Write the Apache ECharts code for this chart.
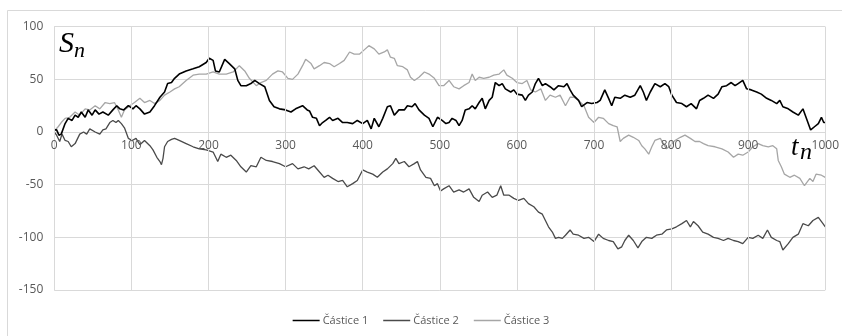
<!DOCTYPE html>
<html>
<head>
<meta charset="utf-8">
<script src="https://cdn.jsdelivr.net/npm/echarts@6/dist/echarts.min.js"></script>
<style>
  html, body { margin: 0; padding: 0; background: #ffffff; }
  #chart { width: 842px; height: 336px; }
</style>
</head>
<body>
<div id="chart"></div>
<script>
// Random walks S_n of three particles over 1000 steps
const seriesNames = ['Částice 1', 'Částice 2', 'Částice 3'];
const xTicks = [0, 100, 200, 300, 400, 500, 600, 700, 800, 900, 1000];
const yTicks = [-150, -100, -50, 0, 50, 100];

const steps1 = [0, 3, 6, 9, 14, 18, 23, 27, 31, 35, 40, 44, 49, 53, 58, 63, 70, 76, 81, 85, 90, 96, 102, 106, 111, 117, 124, 130, 137, 143, 147, 152, 156, 162, 171, 180, 188, 197, 201, 206, 209, 214, 221, 227, 234, 238, 242, 249, 255, 260, 266, 273, 279, 285, 292, 300, 307, 313, 322, 328, 331, 335, 340, 344, 348, 352, 357, 361, 368, 374, 380, 387, 393, 400, 406, 411, 415, 421, 426, 432, 436, 441, 447, 454, 458, 464, 468, 473, 480, 486, 491, 497, 503, 508, 512, 516, 521, 525, 529, 533, 538, 542, 546, 551, 555, 559, 564, 568, 572, 577, 581, 585, 592, 596, 600, 607, 611, 615, 620, 624, 628, 633, 637, 643, 648, 654, 661, 665, 669, 673, 680, 684, 691, 697, 704, 708, 714, 719, 723, 727, 734, 740, 747, 753, 760, 764, 768, 773, 779, 786, 792, 797, 801, 807, 814, 820, 826, 833, 837, 842, 848, 855, 861, 866, 872, 878, 883, 887, 893, 898, 904, 911, 917, 924, 930, 937, 941, 945, 952, 958, 965, 971, 975, 981, 986, 991, 995, 998, 1000];
const values1 = [2, 2, -3, -2, 8, 13, 11, 16, 14, 19, 14, 21, 16, 21, 17, 19, 16, 21, 25, 22, 21, 25, 22, 25, 22, 17, 19, 25, 33, 38, 46, 47, 51, 55, 58, 60, 62, 66, 70, 68, 58, 57, 69, 65, 60, 49, 44, 44, 46, 49, 46, 43, 30, 24, 22, 21, 19, 22, 25, 21, 20, 14, 13, 6, 9, 11, 14, 11, 13, 9, 9, 8, 11, 8, 11, 3, 13, 5, 13, 24, 25, 16, 21, 21, 25, 24, 27, 21, 16, 13, 5, 14, 11, 8, 9, 13, 11, 6, 11, 21, 22, 25, 22, 28, 32, 22, 30, 33, 47, 44, 46, 41, 38, 40, 36, 35, 30, 35, 38, 46, 51, 44, 46, 43, 40, 44, 43, 46, 40, 35, 30, 24, 28, 27, 28, 30, 40, 32, 25, 33, 32, 35, 33, 35, 44, 38, 30, 38, 46, 43, 46, 43, 35, 28, 27, 24, 27, 22, 30, 32, 35, 32, 36, 43, 44, 47, 44, 46, 49, 41, 40, 38, 36, 32, 30, 27, 30, 24, 22, 19, 16, 22, 14, 2, 5, 8, 14, 9, 9];

const steps2 = [0, 3, 7, 10, 14, 18, 22, 27, 33, 38, 42, 46, 53, 59, 63, 67, 72, 76, 80, 83, 87, 91, 96, 101, 106, 111, 117, 124, 128, 133, 137, 139, 141, 143, 147, 152, 156, 162, 171, 180, 188, 197, 206, 212, 216, 223, 229, 236, 242, 249, 255, 262, 268, 275, 283, 292, 300, 309, 316, 324, 330, 337, 344, 350, 355, 361, 368, 374, 380, 387, 393, 400, 406, 413, 419, 426, 432, 439, 443, 447, 454, 460, 467, 471, 475, 482, 488, 493, 497, 501, 505, 512, 518, 525, 531, 538, 544, 551, 555, 562, 568, 574, 579, 583, 590, 596, 602, 609, 615, 622, 628, 633, 637, 641, 646, 650, 654, 659, 663, 669, 673, 680, 687, 693, 700, 706, 712, 719, 725, 731, 736, 740, 745, 751, 757, 762, 768, 775, 781, 788, 794, 801, 807, 814, 820, 825, 829, 835, 841, 848, 855, 861, 868, 874, 881, 887, 893, 900, 906, 913, 919, 925, 930, 937, 941, 945, 952, 958, 965, 971, 978, 984, 991, 997, 1000];
const values2 = [0, -3, -9, -2, -8, -9, -14, -11, -2, 0, -2, 3, 0, -2, 2, 3, 9, 11, 9, 11, 8, 4, -6, -8, -6, -12, -8, -13, -17, -24, -28, -31, -25, -14, -9, -7, -6, -8, -11, -14, -16, -17, -19, -28, -21, -24, -22, -27, -33, -38, -32, -33, -24, -27, -28, -30, -33, -30, -35, -33, -35, -32, -38, -43, -41, -44, -47, -46, -52, -49, -46, -36, -38, -40, -43, -38, -35, -30, -25, -30, -28, -33, -30, -28, -36, -43, -44, -51, -49, -56, -54, -51, -57, -55, -57, -54, -62, -66, -60, -57, -62, -60, -51, -60, -60, -63, -65, -63, -68, -71, -76, -78, -84, -90, -95, -101, -100, -101, -98, -93, -97, -98, -101, -100, -104, -97, -101, -103, -104, -111, -109, -103, -98, -103, -110, -104, -100, -101, -98, -97, -93, -92, -90, -87, -84, -90, -85, -89, -95, -97, -100, -101, -103, -101, -103, -104, -106, -100, -101, -98, -101, -93, -100, -103, -104, -112, -106, -100, -97, -87, -89, -84, -81, -87, -90];

const steps3 = [0, 5, 9, 14, 20, 27, 33, 40, 46, 53, 59, 66, 72, 78, 83, 87, 91, 98, 104, 111, 117, 124, 130, 137, 143, 150, 156, 162, 171, 180, 188, 197, 206, 214, 223, 232, 240, 247, 253, 262, 268, 275, 283, 290, 296, 303, 309, 316, 322, 326, 333, 337, 344, 350, 357, 363, 370, 376, 383, 389, 396, 402, 408, 415, 421, 428, 432, 436, 441, 445, 452, 458, 462, 467, 473, 480, 486, 493, 499, 505, 512, 518, 525, 531, 538, 542, 546, 551, 557, 564, 570, 577, 583, 587, 594, 600, 607, 613, 618, 624, 631, 637, 643, 650, 656, 663, 669, 674, 680, 687, 693, 700, 706, 712, 719, 725, 730, 734, 738, 745, 751, 758, 762, 766, 771, 775, 779, 786, 790, 794, 799, 805, 812, 818, 825, 831, 837, 842, 848, 857, 866, 874, 881, 887, 893, 900, 906, 913, 919, 926, 932, 937, 939, 943, 947, 954, 960, 967, 973, 980, 984, 988, 995, 1000];
const values3 = [1, 5, 9, 13, 14, 19, 16, 22, 21, 25, 22, 28, 27, 28, 21, 14, 21, 25, 28, 32, 28, 30, 27, 30, 35, 38, 41, 43, 49, 54, 55, 55, 57, 55, 55, 57, 63, 58, 51, 44, 47, 49, 55, 58, 57, 51, 50, 55, 63, 69, 65, 60, 63, 66, 65, 62, 65, 68, 76, 74, 74, 78, 82, 79, 74, 76, 78, 71, 70, 63, 62, 59, 52, 49, 52, 57, 55, 51, 44, 44, 49, 43, 41, 44, 47, 55, 49, 52, 51, 52, 54, 55, 59, 54, 51, 47, 46, 49, 40, 38, 41, 30, 35, 33, 35, 25, 33, 33, 30, 25, 14, 9, 14, 13, 8, 6, 5, -9, -6, -3, -5, -8, -13, -16, -21, -14, -8, -6, -11, -16, -13, -8, -5, -3, -6, -9, -9, -11, -13, -14, -16, -19, -24, -21, -22, -19, -14, -11, -13, -14, -13, -16, -27, -33, -40, -43, -41, -44, -51, -44, -47, -40, -41, -43];

function pairs(xs, ys) {
  return xs.map((x, i) => [x, ys[i]]);
}

const lineColors = ['#000000', '#4a4a4a', '#a6a6a6'];
const lineWidths = [1.6, 1.3, 1.3];
const allSteps = [steps1, steps2, steps3];
const allValues = [values1, values2, values3];

const chart = echarts.init(document.getElementById('chart'), null, { renderer: 'canvas' });

const labelFont = '"Open Sans", "Liberation Sans", sans-serif';
const mathFont = '"Liberation Serif", "DejaVu Serif", serif';

// Plot rectangle
const gridTop = 26.7, gridBottom = 46, chartHeight = 336;
const plotHeight = chartHeight - gridTop - gridBottom;
const yMin = yTicks[0], yMax = yTicks[yTicks.length - 1];
// shift the category labels up so they sit on the zero line
const zeroOffset = -plotHeight * (0 - yMin) / (yMax - yMin);

chart.setOption({
  animation: false,
  backgroundColor: '#ffffff',
  grid: { left: 54.3, right: 14.7, top: gridTop, bottom: gridBottom, containLabel: false },
  xAxis: {
    type: 'value',
    min: xTicks[0],
    max: xTicks[xTicks.length - 1],
    interval: xTicks[1] - xTicks[0],
    offset: zeroOffset,
    axisLine: { show: false, onZero: false },
    axisTick: { show: false },
    axisLabel: { color: '#595959', fontSize: 12, fontFamily: labelFont, margin: 8, formatter: v => String(v) },
    splitLine: { show: true, lineStyle: { color: '#d9d9d9', width: 1 } },
    z: 20
  },
  yAxis: {
    type: 'value',
    min: yMin,
    max: yMax,
    interval: yTicks[1] - yTicks[0],
    axisLine: { show: true, onZero: false, lineStyle: { color: '#d9d9d9', width: 1 } },
    axisTick: { show: false },
    axisLabel: { color: '#595959', fontSize: 12, fontFamily: labelFont, margin: 11 },
    splitLine: { show: true, lineStyle: { color: '#d9d9d9', width: 1 } }
  },
  legend: {
    left: 'center',
    top: 310,
    icon: 'rect',
    itemWidth: 27,
    itemHeight: 1.5,
    itemGap: 15,
    textStyle: { color: '#595959', fontSize: 11, fontFamily: labelFont, padding: [0, 0, 0, -2] },
    data: seriesNames
  },
  series: seriesNames.map((name, i) => ({
    name: name,
    type: 'line',
    data: pairs(allSteps[i], allValues[i]),
    showSymbol: false,
    symbol: 'none',
    z: 10 - i,
    lineStyle: { color: lineColors[i], width: lineWidths[i] },
    itemStyle: { color: lineColors[i] }
  })),
  graphic: [
    {
      type: 'rect',
      silent: true,
      shape: { x: 7.5, y: 10.5, width: 900, height: 400 },
      style: { fill: 'none', stroke: '#d9d9d9', lineWidth: 1 }
    },
    {
      type: 'text', left: 59, top: 29, z: 100,
      style: { text: 'S', font: 'italic 30px ' + mathFont, fill: '#000000' }
    },
    {
      type: 'text', left: 74, top: 40, z: 100,
      style: { text: 'n', font: 'italic 22px ' + mathFont, fill: '#000000' }
    },
    {
      type: 'text', left: 791, top: 134, z: 100,
      style: { text: 't', font: 'italic 27px ' + mathFont, fill: '#000000' }
    },
    {
      type: 'text', left: 800, top: 141, z: 100,
      style: { text: 'n', font: 'italic 24px ' + mathFont, fill: '#000000' }
    }
  ]
});
</script>
</body>
</html>
